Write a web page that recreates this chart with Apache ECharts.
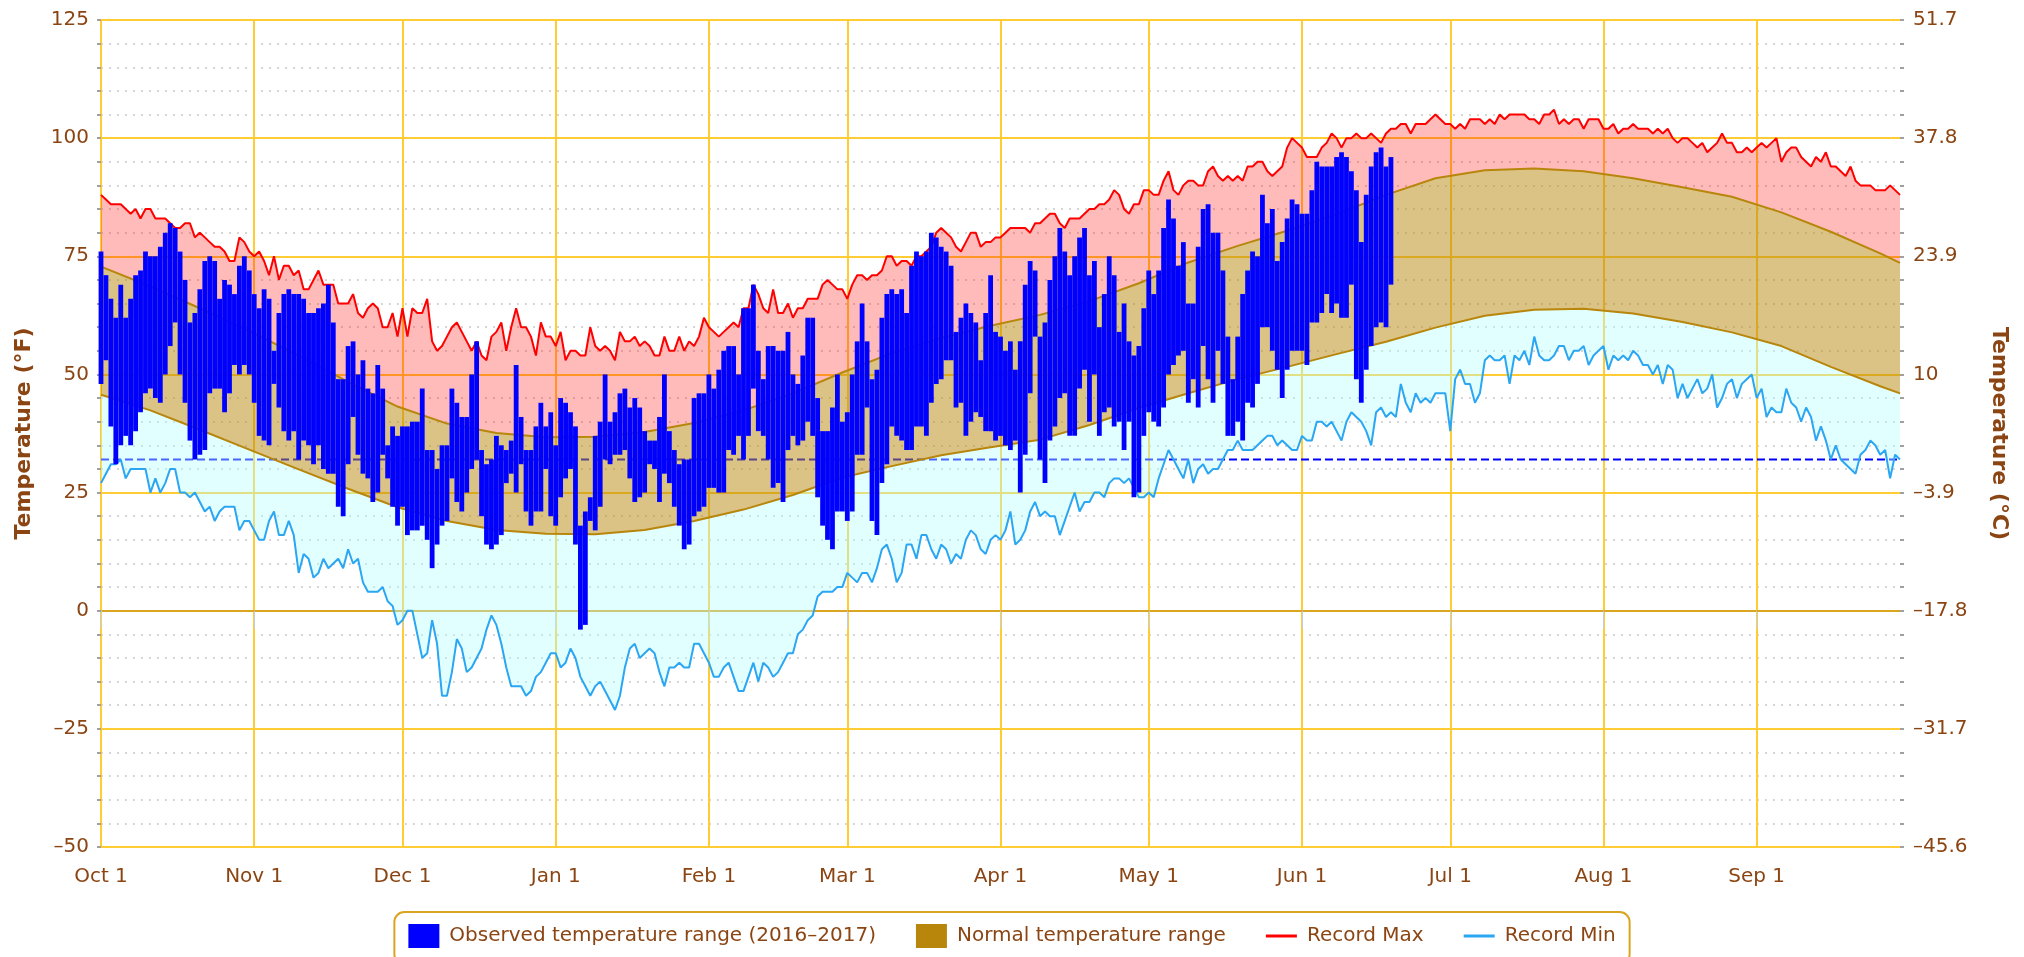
<!DOCTYPE html>
<html>
<head>
<meta charset="utf-8">
<script src="https://cdn.jsdelivr.net/npm/echarts@6/dist/echarts.min.js"></script>
<style>
html, body { margin: 0; padding: 0; background: #fff; }
#chart { width: 2024px; height: 957px; }
</style>
</head>
<body>
<div id="chart"></div>
<script>
// season Oct 2016 - Sep 2017, one category per day
var monthNames = ['Oct', 'Nov', 'Dec', 'Jan', 'Feb', 'Mar', 'Apr', 'May', 'Jun', 'Jul', 'Aug', 'Sep'];
var monthDays = [31, 30, 31, 31, 28, 31, 30, 31, 30, 31, 31, 30];

// record max (°F), one per day
var recMax = [
  88,87,86,86,86,85,84,85,83,85, 85,83,83,83,82,81,81,82,82,79, 80,79,78,77,77,76,74,74,79,78,
  76,75,76,74,71,75,70,73,73,71, 72,68,68,70,72,69,69,69,65,65, 65,67,63,62,64,65,64,60,60,63,
  58,64,58,64,63,63,66,57,55,56, 58,60,61,59,57,55,57,54,53,58, 59,61,55,60,64,60,60,58,54,61,
  58,58,56,59,53,55,55,54,54,60, 56,55,56,55,53,59,57,57,58,56, 57,56,54,54,58,55,55,58,55,57,
  56,58,62,60,59,58,59,60,61,60, 64,64,69,67,64,63,68,63,63,65, 62,64,64,66,66,66,69,70,69,68,
  68,66,69,71,71,70,71,71,72,75, 75,73,74,74,73,75,75,76,77,80, 81,80,79,77,76,78,80,80,77,78,
  78,79,79,80,81,81,81,81,80,82, 82,83,84,84,82,81,83,83,83,84, 85,85,86,86,87,89,88,85,84,86,
  86,89,89,88,88,91,93,89,88,90, 91,91,90,90,93,94,92,91,92,91, 92,91,94,94,95,95,93,92,93,94,
  98,100,99,98,96,96,96,98,99,101, 100,98,100,100,101,100,100,101,100,99, 101,102,102,103,103,101,103,103,103,104,
  105,104,103,103,102,103,102,104,104,104, 103,104,103,105,104,105,105,105,105,104, 104,103,105,105,106,103,104,103,104,104,
  102,104,104,104,102,102,103,101,102,102, 103,102,102,102,101,102,101,102,100,99, 100,100,99,98,99,97,98,99,101,99,
  99,97,97,98,97,98,99,98,99,100, 95,97,98,98,96,95,94,96,95,97, 94,94,93,92,94,91,90,90,90,89,
  89,89,90,89,88
];

// record min (°F), one per day
var recMin = [
  27,29,31,31,32,28,30,30,30,30, 25,28,25,27,30,30,25,25,24,25, 23,21,22,19,21,22,22,22,17,19,
  19,17,15,15,19,21,16,16,19,16, 8,12,11,7,8,11,9,10,11,9, 13,10,11,6,4,4,4,5,2,1,
  -3,-2,0,0,-5,-10,-9,-2,-7,-18, -18,-13,-6,-8,-13,-12,-10,-8,-4,-1, -3,-7,-12,-16,-16,-16,-18,-17,-14,-13,
  -11,-9,-9,-12,-11,-8,-10,-14,-16,-18, -16,-15,-17,-19,-21,-18,-12,-8,-7,-10, -9,-8,-9,-13,-16,-12,-12,-11,-12,-12,
  -7,-7,-9,-11,-14,-14,-12,-11,-14,-17, -17,-14,-11,-15,-11,-12,-14,-13,-11,-9, -9,-5,-4,-2,-1,3,4,4,4,5,
  5,8,7,6,8,8,6,9,13,14, 11,6,8,14,14,11,16,16,13,11, 14,13,10,12,11,15,17,16,13,12,
  15,16,15,17,21,14,15,17,21,23, 20,21,20,20,16,19,22,25,21,23, 23,25,25,24,27,28,28,27,28,26,
  24,24,25,24,28,31,34,32,30,28, 32,27,30,31,29,30,30,32,34,34, 36,34,34,34,35,36,37,37,35,36,
  35,34,34,37,36,36,40,40,39,40, 38,36,40,42,41,40,38,35,42,43, 41,42,41,48,44,42,46,44,45,44,
  46,46,46,38,49,51,48,48,44,46, 53,54,53,53,54,48,54,53,55,52, 58,54,53,53,54,56,56,53,55,55,
  56,52,54,55,56,51,54,53,54,53, 55,54,52,52,50,52,48,52,51,45, 48,45,47,49,46,47,50,43,45,48,
  49,45,48,49,50,45,47,41,43,42, 42,47,44,43,40,43,41,36,39,36, 32,35,32,31,30,29,33,34,36,35,
  33,34,28,33,32
];

// normal range, read at every tenth day
var normDays = [0,10,20,30,40,50,60,70,80,90, 100,110,120,130,140,150,160,170,180,190,
  200,210,220,230,240,250,260,270,280,290, 300,310,320,330,340,350,360,364];
var normHigh = [72.8,68.6,64.0,59.2,54.0,48.4,43.2,39.6,37.6,36.7, 36.8,37.8,39.7,42.4,46.0,50.4,54.5,57.7,60.3,62.6,
  65.5,69.3,73.7,77.2,80.4,83.9,88.0,91.5,93.2,93.6, 93.0,91.5,89.6,87.6,84.3,80.2,75.6,73.6];
var normLow = [45.7,42.4,38.3,34.1,29.9,25.8,21.9,19.0,17.1,16.3, 16.2,17.1,19.0,21.4,24.5,28.2,30.6,32.9,34.6,36.2,
  39.3,42.9,46.0,49.0,51.6,54.3,56.9,59.9,62.4,63.7, 63.9,62.9,61.1,58.9,56.0,51.6,47.5,46.0];

// observed 2016-2017, Oct 1 to Jun 19
var obsHigh = [
  76,71,66,62,69,62,66,71,72,76, 75,75,77,80,82,81,76,70,61,63, 68,74,75,74,66,70,69,67,73,75,
  72,67,64,68,66,55,63,67,68,67, 67,66,63,63,64,65,69,61,49,49, 56,57,50,53,47,46,52,47,35,39,
  37,39,39,40,40,47,34,34,30,35, 35,47,44,41,41,50,57,34,31,32, 37,35,34,36,52,41,34,34,39,44,
  39,42,35,45,44,42,39,18,21,24, 37,40,50,40,42,46,47,43,45,43, 38,36,36,41,50,38,34,31,32,32,
  45,46,46,50,47,51,55,56,56,50, 64,64,69,55,49,56,56,55,55,59, 50,48,54,62,62,45,38,38,43,50,
  40,42,50,57,65,57,49,51,62,67, 68,67,68,63,73,76,75,76,80,79, 77,76,73,59,62,65,63,61,53,63,
  71,59,58,55,57,51,57,69,74,72, 58,61,70,75,81,76,71,75,79,81, 71,74,60,67,75,71,59,65,57,54,
  56,64,72,67,72,81,87,83,73,78, 65,65,77,85,86,80,80,72,58,49, 58,67,72,76,75,88,82,85,74,78,
  83,87,86,84,84,89,95,94,94,94, 96,97,96,93,89,78,88,94,97,98, 94,96
];
var obsLow = [
  48,53,39,31,35,37,35,38,42,46, 47,45,44,50,56,61,50,44,36,32, 33,34,46,47,47,42,46,52,50,52,
  50,44,37,36,35,48,43,38,36,38, 32,36,35,31,35,30,29,29,22,20, 31,41,33,29,28,23,25,33,28,22,
  18,22,16,17,17,18,15,9,14,18, 19,28,23,21,25,30,32,20,14,13, 14,16,27,29,25,31,21,18,21,21,
  30,20,18,24,28,30,14,-4,-3,19, 17,22,32,31,33,33,34,28,23,24, 25,31,30,23,29,27,22,18,13,14,
  20,21,22,26,26,25,25,34,33,37, 32,37,47,38,37,32,26,27,23,34, 37,35,36,40,37,24,18,15,13,21,
  21,19,21,33,33,43,19,16,27,31, 39,37,36,34,34,39,39,37,44,48, 49,53,53,43,44,37,40,42,41,38,
  38,36,37,35,34,36,25,33,46,58, 32,27,36,39,45,46,37,37,47,51, 40,50,37,42,43,39,40,34,40,24,
  25,37,42,40,39,43,50,52,54,55, 44,49,43,56,49,44,55,48,37,37, 40,36,44,43,48,60,60,55,51,45,
  51,55,55,55,52,61,61,63,67,63, 65,62,62,69,49,44,51,56,60,61, 60,69
];

var freezing = 32;

var days = [];
monthNames.forEach(function (m, i) {
  for (var d = 1; d <= monthDays[i]; d++) days.push(m + ' ' + d);
});
var lastDay = days.length - 1;

function isMonthStart(idx, val) { return / 1$/.test(val); }
function dash(s) { return String(s).replace('-', '\u2013'); }

var brown = '#8B4513';
var lineIcon = 'path://M0,0M31,24M0,10.5H31V13.5H0Z';

var chart = echarts.init(document.getElementById('chart'));
chart.setOption({
  animation: false,
  textStyle: { fontFamily: 'DejaVu Sans' },
  grid: { left: 101, right: 124, top: 20, bottom: 110 },
  legend: {
    left: 'center', top: 912,
    itemWidth: 31, itemHeight: 24, itemGap: 40,
    padding: [12, 14, 16, 14],
    borderColor: '#DAA520', borderWidth: 2, borderRadius: 10,
    textStyle: { color: brown, fontSize: 20, padding: [0, 0, 0, 5] },
    data: [
      { name: 'Observed temperature range (2016\u20132017)', icon: 'rect' },
      { name: 'Normal temperature range', icon: 'rect' },
      { name: 'Record Max', icon: lineIcon },
      { name: 'Record Min', icon: lineIcon }
    ]
  },
  xAxis: {
    type: 'category', data: days, boundaryGap: false,
    axisLine: { lineStyle: { color: '#DAA520', width: 2 } },
    axisTick: { interval: isMonthStart, length: 18, lineStyle: { color: '#C0D0E0', width: 1 } },
    axisLabel: { interval: isMonthStart, color: brown, fontSize: 20, margin: 20 },
    splitLine: { show: true, interval: isMonthStart, lineStyle: { color: '#FFCC33', width: 2 } }
  },
  yAxis: [{
    type: 'value', min: -50, max: 125, interval: 25,
    name: 'Temperature (\u00b0F)', nameLocation: 'middle', nameGap: 66, nameRotate: 90,
    nameTextStyle: { color: brown, fontSize: 22, fontWeight: 'bold' },
    axisLine: { show: false },
    axisTick: { show: true, length: 4, lineStyle: { color: '#A0A0A0', width: 2 } },
    minorTick: { show: true, splitNumber: 5, length: 4, lineStyle: { color: '#A0A0A0', width: 2 } },
    axisLabel: { color: brown, fontSize: 20, margin: 12, formatter: function (v) { return dash(v); } },
    splitLine: { lineStyle: { color: '#FFCC33', width: 2 } },
    minorSplitLine: { show: true, lineStyle: { color: '#D6D6D6', width: 2, type: [2, 6] } }
  }, {
    type: 'value', min: -50, max: 125, interval: 25, position: 'right',
    name: 'Temperature (\u00b0C)', nameLocation: 'middle', nameGap: 88, nameRotate: -90,
    nameTextStyle: { color: brown, fontSize: 22, fontWeight: 'bold' },
    axisLine: { show: false },
    axisTick: { show: true, length: 4, lineStyle: { color: '#A0A0A0', width: 2 } },
    minorTick: { show: true, splitNumber: 5, length: 4, lineStyle: { color: '#A0A0A0', width: 2 } },
    axisLabel: {
      color: brown, fontSize: 20, margin: 13,
      formatter: function (v) { return dash(Math.round((v - 32) * 50 / 9) / 10); }
    },
    splitLine: { show: false },
    minorSplitLine: { show: false }
  }],
  series: [{
    name: 'freezing', type: 'line', z: 1, silent: true, symbol: 'none',
    data: [[0, freezing], [lastDay, freezing]],
    lineStyle: { color: '#0000FF', width: 2, type: [8, 4] }
  }, {
    name: 'Normal temperature range', type: 'custom', z: 2, silent: true,
    itemStyle: { color: '#B8860B' },
    data: [[0, 0]],
    renderItem: function (params, api) {
      if (params.dataIndex !== 0) return;
      var top = recMax.map(function (v, i) { return api.coord([i, v]); });
      var bot = recMin.map(function (v, i) { return api.coord([i, v]); });
      var hi = normDays.map(function (d, i) { return api.coord([d, normHigh[i]]); });
      var lo = normDays.map(function (d, i) { return api.coord([d, normLow[i]]); });
      return {
        type: 'group',
        children: [
          { type: 'polygon', shape: { points: top.concat(hi.slice().reverse()) }, style: { fill: 'rgba(255,0,0,0.27)' } },
          { type: 'polygon', shape: { points: hi.concat(lo.slice().reverse()) }, style: { fill: 'rgba(184,134,11,0.5)' } },
          { type: 'polygon', shape: { points: lo.concat(bot.slice().reverse()) }, style: { fill: 'rgba(180,255,255,0.4)' } }
        ]
      };
    }
  }, {
    name: 'normal high', type: 'line', z: 3, silent: true, symbol: 'none',
    data: normDays.map(function (d, i) { return [d, normHigh[i]]; }),
    lineStyle: { color: '#B8860B', width: 2 }
  }, {
    name: 'normal low', type: 'line', z: 3, silent: true, symbol: 'none',
    data: normDays.map(function (d, i) { return [d, normLow[i]]; }),
    lineStyle: { color: '#B8860B', width: 2 }
  }, {
    name: 'Record Max', type: 'line', z: 4, silent: true, symbol: 'none',
    itemStyle: { color: '#FF0000' },
    data: recMax,
    lineStyle: { color: '#FF0000', width: 2 }
  }, {
    name: 'Record Min', type: 'line', z: 4, silent: true, symbol: 'none',
    itemStyle: { color: '#2AA6F2' },
    data: recMin,
    lineStyle: { color: '#2AA6F2', width: 2 }
  }, {
    name: 'Observed temperature range (2016\u20132017)', type: 'custom', z: 5, silent: true,
    itemStyle: { color: '#0000FF' },
    encode: { x: 0, y: [1, 2] },
    data: obsHigh.map(function (h, i) { return [i, obsLow[i], h]; }),
    renderItem: function (params, api) {
      var top = api.coord([api.value(0), api.value(2)]);
      var bot = api.coord([api.value(0), api.value(1)]);
      var w = 4.8;
      return {
        type: 'rect',
        shape: { x: top[0] - w / 2, y: top[1], width: w, height: bot[1] - top[1] },
        style: { fill: '#0000FF' }
      };
    }
  }]
});
</script>
</body>
</html>
